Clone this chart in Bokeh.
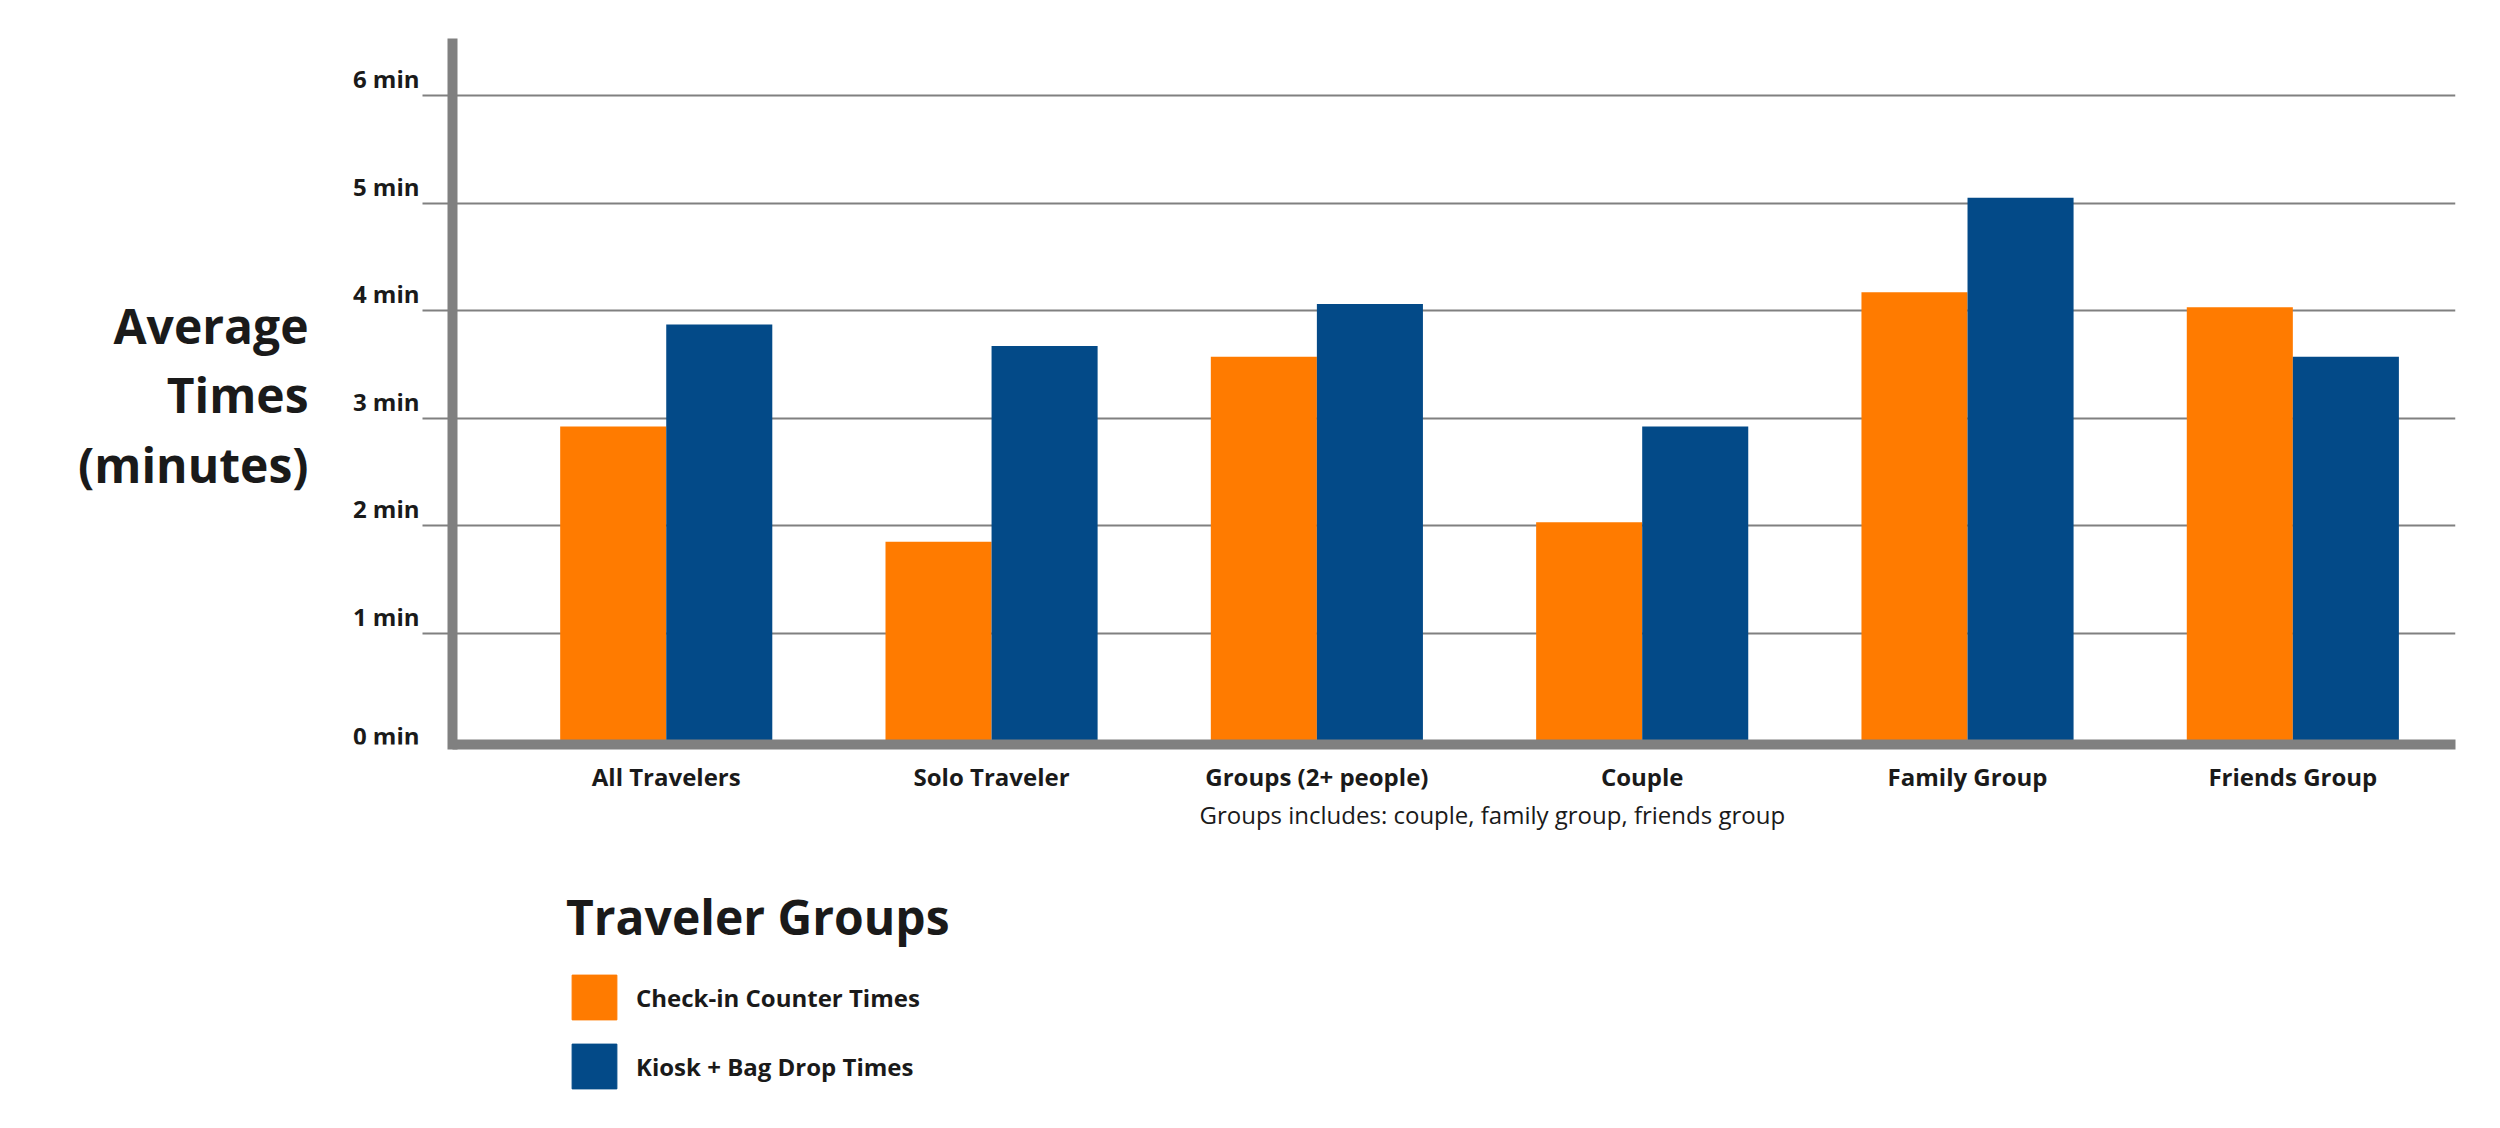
from bokeh.plotting import figure
from bokeh.models import Range1d, FixedTicker, Legend, LegendItem, Title
from bokeh.layouts import row, column
from bokeh.embed import file_html
from bokeh.resources import INLINE

# ---- data ----
categories = ["All Travelers", "Solo Traveler", "Groups (2+ people)", "Couple", "Family Group", "Friends Group"]
checkin_times = [2.92, 1.85, 3.57, 2.03, 4.17, 4.03]
kiosk_times = [3.87, 3.67, 4.06, 2.92, 5.05, 3.57]
series_names = ["Check-in Counter Times", "Kiosk + Bag Drop Times"]
y_tick_values = [0, 1, 2, 3, 4, 5, 6]
y_tick_labels = ["0 min", "1 min", "2 min", "3 min", "4 min", "5 min", "6 min"]
axis_title_lines = ["Average", "Times", "(minutes)"]
legend_title = "Traveler Groups"
footnote = "Groups includes: couple, family group, friends group"

# ---- style / layout constants (pixels) ----
FONT = "Open Sans"
TXT = "#1a1a1a"
GRAY = "#808080"
ORANGE = "#FF7B00"
BLUE = "#034A88"
BAR_W = 0.326

TOTAL_W, TOTAL_H = 2484, 1112
TOP_H = 840            # height of the chart row
LEFT_W = 422           # strip holding the axis title and tick labels
MAIN_W = TOTAL_W - LEFT_W
FRAME_TOP, FRAME_BOTTOM = 43, 744
ZERO_Y = 740           # pixel row of value 0
PX_PER_MIN = 107.5

y_range = Range1d((ZERO_Y - FRAME_BOTTOM) / PX_PER_MIN, (ZERO_Y - FRAME_TOP) / PX_PER_MIN)
x_range = Range1d(-0.157, 6.0)

# ---------------- main chart ----------------
p = figure(width=MAIN_W, height=TOP_H, output_backend="svg", toolbar_location=None,
           x_range=x_range, y_range=y_range,
           min_border_left=30, min_border_right=29, min_border_top=FRAME_TOP,
           min_border_bottom=TOP_H - FRAME_BOTTOM)
p.outline_line_color = None

centers = [i + 0.5 for i in range(len(categories))]
r1 = p.vbar(x=[c - BAR_W / 2 for c in centers], top=checkin_times, bottom=0, width=BAR_W,
            fill_color=ORANGE, line_color=None)
r2 = p.vbar(x=[c + BAR_W / 2 for c in centers], top=kiosk_times, bottom=0, width=BAR_W,
            fill_color=BLUE, line_color=None)

xa = p.xaxis[0]
xa.ticker = FixedTicker(ticks=centers, minor_ticks=[])
xa.major_label_overrides = {c: n for c, n in zip(centers, categories)}
xa.major_tick_out = 0
xa.major_tick_in = 0
xa.axis_line_width = 10
xa.axis_line_color = GRAY
xa.major_label_text_font = FONT
xa.major_label_text_font_style = "bold"
xa.major_label_text_font_size = "24px"
xa.major_label_text_color = TXT
xa.major_label_standoff = 15

yt = FixedTicker(ticks=[v for v in y_tick_values if v > 0], minor_ticks=[])
ya = p.yaxis[0]
ya.ticker = yt
ya.major_label_overrides = {v: "" for v in y_tick_values}
ya.major_label_standoff = 0
ya.major_tick_out = 30
ya.major_tick_in = 0
ya.major_tick_line_width = 2
ya.major_tick_line_color = GRAY
ya.axis_line_width = 10
ya.axis_line_color = GRAY
ya.axis_line_cap = "square"

p.xgrid.grid_line_color = None
p.ygrid.ticker = yt
p.ygrid.grid_line_color = GRAY
p.ygrid.grid_line_width = 2

note = Title(text=footnote, align="left", offset=747, standoff=0, text_font=FONT,
             text_font_size="24px", text_font_style="normal", text_color=TXT)
p.add_layout(note, "below")

# ---------------- left strip: axis title + tick labels (shares the y scale) ----------------
q = figure(width=LEFT_W, height=TOP_H, output_backend="svg", toolbar_location=None,
           x_range=Range1d(0, LEFT_W), y_range=y_range,
           x_axis_location=None, y_axis_location=None,
           min_border_left=0, min_border_right=0, min_border_top=FRAME_TOP,
           min_border_bottom=TOP_H - FRAME_BOTTOM)
q.outline_line_color = None
q.grid.visible = False

q.text(x=[LEFT_W - 3] * len(y_tick_values), y=y_tick_values, text=y_tick_labels,
       y_offset=[-5 if v == 0 else -17 for v in y_tick_values],
       text_align="right", text_baseline="middle", text_font={"value": FONT},
       text_font_style="bold", text_font_size="24px", text_color=TXT)

title_rows = [325, 394, 464]
q.text(x=[308] * len(axis_title_lines), y=[(ZERO_Y - r) / PX_PER_MIN for r in title_rows],
       text=axis_title_lines, text_align="right", text_baseline="middle",
       text_font={"value": FONT}, text_font_style="bold", text_font_size="48px", text_color=TXT)

# ---------------- bottom strip: legend ----------------
BOT_H = TOTAL_H - TOP_H
b = figure(width=TOTAL_W, height=BOT_H, output_backend="svg", toolbar_location=None,
           x_range=Range1d(0, TOTAL_W), y_range=Range1d(0, BOT_H),
           x_axis_location=None, y_axis_location=None,
           min_border_left=0, min_border_right=0, min_border_top=0, min_border_bottom=0)
b.outline_line_color = None
b.grid.visible = False
# zero-size proxies that only carry the series colours for the legend swatches
k1 = b.vbar(x=[0], top=[0], bottom=[0], width=0, fill_color=ORANGE, line_color=ORANGE)
k2 = b.vbar(x=[0], top=[0], bottom=[0], width=0, fill_color=BLUE, line_color=BLUE)

legend = Legend(items=[LegendItem(label=series_names[0], renderers=[k1]),
                       LegendItem(label=series_names[1], renderers=[k2])],
                location=(566, 18), orientation="vertical")
legend.title = legend_title
legend.title_text_font = FONT
legend.title_text_font_size = "48px"
legend.title_text_font_style = "bold"
legend.title_text_color = TXT
legend.title_standoff = 20
legend.label_text_font = FONT
legend.label_text_font_size = "24px"
legend.label_text_font_style = "bold"
legend.label_text_color = TXT
legend.glyph_width = 56
legend.glyph_height = 56
legend.label_height = 56
legend.label_standoff = 14
legend.spacing = 13
legend.padding = 0
legend.margin = 0
legend.border_line_color = None
legend.background_fill_alpha = 0
b.add_layout(legend)

layout = column(row(q, p, spacing=0), b, spacing=0)
open("out.html", "w").write(file_html(layout, INLINE))
